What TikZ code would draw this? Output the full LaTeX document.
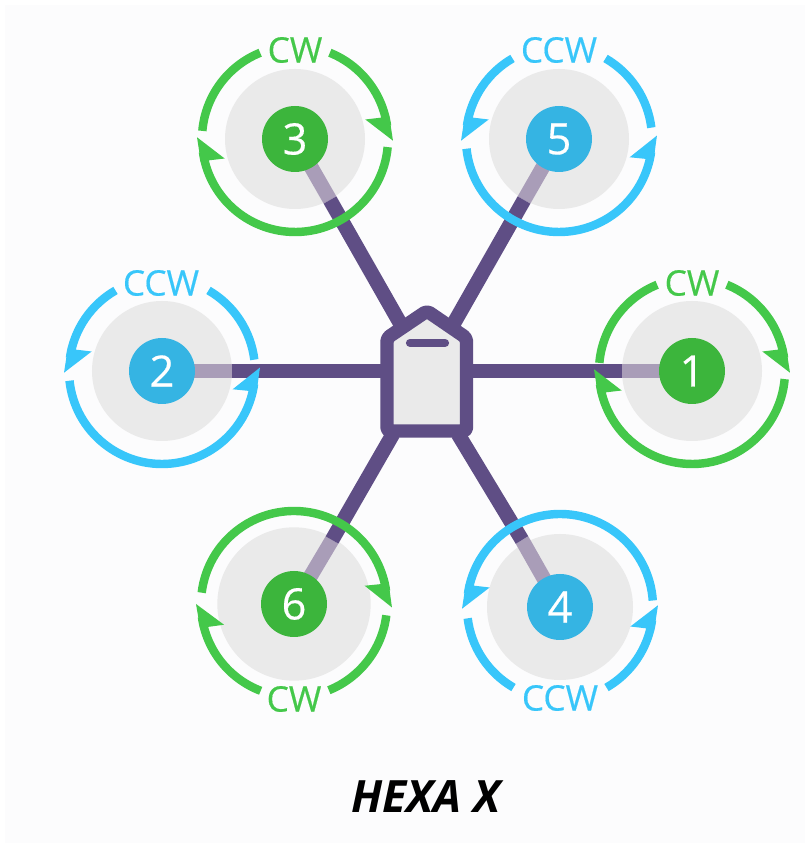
\documentclass[tikz,border=0pt]{standalone}
\usepackage{fontspec}
\setmainfont{Open Sans}
\newfontfamily\sensefont[FakeBold=0.4]{Open Sans}
\usepackage{xcolor}
\definecolor{bgcol}{HTML}{FCFCFD}
\definecolor{armcol}{HTML}{5F4E85}
\definecolor{armfade}{HTML}{A99DB8}
\definecolor{discol}{HTML}{EAEAEA}
\definecolor{ringcw}{HTML}{44C84A}
\definecolor{ringccw}{HTML}{38C6FA}
\definecolor{motorcw}{HTML}{3CB53C}
\definecolor{motorccw}{HTML}{35B4E3}
\newcommand{\tipcw}[2]{\fill ([shift={(#1)}]#2:98) -- ([shift={(#1)}]#2+16.5:73) -- ([shift={(#1)}]#2+15:88) -- ([shift={(#1)}]#2+15:97) -- cycle;}
\newcommand{\tipccw}[2]{\fill ([shift={(#1)}]#2:98) -- ([shift={(#1)}]#2-16.5:73) -- ([shift={(#1)}]#2-15:88) -- ([shift={(#1)}]#2-15:97) -- cycle;}
\tikzset{
    disc/.style={circle,fill=discol,minimum size=4.2cm,inner sep=0pt},
    motor/.style={circle,inner sep=0pt,minimum size=1.98cm,text=white,font=\sensefont\fontsize{37}{37}\selectfont},
    ring/.style={line width=7.2pt},
    arm/.style={armcol,line width=12.5pt},
    armlight/.style={armfade,line width=12.5pt},
    sense/.style={font=\sensefont\fontsize{30}{30}\selectfont,inner sep=0pt}
}

\begin{document}
\begin{tikzpicture}[x=0.03cm,y=0.03cm]

    % page, y counted up from the bottom edge
    \fill[white] (0,0) rectangle (805,843);
    \fill[bgcol] (5,0) rectangle (805,838);
    \useasboundingbox (0,0) rectangle (805,843);

    % grey discs
    \node[disc] (d1) at (692,472) {};
    \node[disc] (d2) at (162,472) {};
    \node[disc] (d3) at (295,704) {};
    \node[disc,minimum size=4.38cm] (d4) at (560,236) {};
    \node[disc] (d5) at (559,704) {};
    \node[disc,minimum size=4.6cm] (d6) at (294,239) {};

    % where the arms meet the body and where they turn pale
    \coordinate (h1) at (470,472);
    \coordinate (h2) at (385,472);
    \coordinate (h3) at (400,520);
    \coordinate (h4) at (458,409);
    \coordinate (h5) at (454,520);
    \coordinate (h6) at (393,409);
    \coordinate (f1) at (622,472);
    \coordinate (f2) at (232,472);
    \coordinate (f3) at (330,643);
    \coordinate (f4) at (522,303);
    \coordinate (f5) at (524,643);
    \coordinate (f6) at (332,303);

    % arms
    \draw[armlight] (d1.center) -- (f1);
    \draw[armlight] (d2.center) -- (f2);
    \draw[armlight] (d3.center) -- (f3);
    \draw[armlight] (d4.center) -- (f4);
    \draw[armlight] (d5.center) -- (f5);
    \draw[armlight] (d6.center) -- (f6);
    \draw[arm] (h1) -- (f1);
    \draw[arm] (h2) -- (f2);
    \draw[arm] (h3) -- (f3);
    \draw[arm] (h4) -- (f4);
    \draw[arm] (h5) -- (f5);
    \draw[arm] (h6) -- (f6);

    % body
    \draw[armcol,fill=discol,line width=11.5pt,rounded corners=3pt,line join=round]
        (387,412) -- (466.5,412) -- (466.5,505) -- (427,532) -- (387,505) -- cycle;
    \draw[armcol,line width=7pt,line cap=round] (410,500) -- (445,500);

    % rotation arrows, clockwise ones in green
    \begin{scope}[ringcw,every path/.append style={ring}]
        \draw ([shift={(d1.center)}]68:93) arc[start angle=68,end angle=8,radius=93];
        \draw ([shift={(d1.center)}]-5:93) arc[start angle=-5,end angle=-172,radius=93];
        \draw ([shift={(d1.center)}]112:93) arc[start angle=112,end angle=175,radius=93];
        \tipcw{d1.center}{-1}
        \tipcw{d1.center}{-181}

        \draw ([shift={(d3.center)}]68:93) arc[start angle=68,end angle=8,radius=93];
        \draw ([shift={(d3.center)}]-5:93) arc[start angle=-5,end angle=-172,radius=93];
        \draw ([shift={(d3.center)}]112:93) arc[start angle=112,end angle=175,radius=93];
        \tipcw{d3.center}{-1}
        \tipcw{d3.center}{-181}

        \draw ([shift={(d6.center)}]173:93) arc[start angle=173,end angle=8,radius=93];
        \draw ([shift={(d6.center)}]249:93) arc[start angle=249,end angle=188,radius=93];
        \draw ([shift={(d6.center)}]292:93) arc[start angle=292,end angle=353,radius=93];
        \tipcw{d6.center}{-2}
        \tipcw{d6.center}{180}
    \end{scope}

    % counter clockwise ones in blue
    \begin{scope}[ringccw,every path/.append style={ring}]
        \draw ([shift={(d2.center)}]120:93) arc[start angle=120,end angle=172,radius=93];
        \draw ([shift={(d2.center)}]186:93) arc[start angle=186,end angle=352,radius=93];
        \draw ([shift={(d2.center)}]60:93) arc[start angle=60,end angle=7,radius=93];
        \tipccw{d2.center}{181}
        \tipccw{d2.center}{2}

        \draw ([shift={(d5.center)}]120:93) arc[start angle=120,end angle=172,radius=93];
        \draw ([shift={(d5.center)}]186:93) arc[start angle=186,end angle=352,radius=93];
        \draw ([shift={(d5.center)}]60:93) arc[start angle=60,end angle=7,radius=93];
        \tipccw{d5.center}{181}
        \tipccw{d5.center}{2}

        \draw ([shift={(d4.center)}]4:93) arc[start angle=4,end angle=172,radius=93];
        \draw ([shift={(d4.center)}]187:93) arc[start angle=187,end angle=240,radius=93];
        \draw ([shift={(d4.center)}]300:93) arc[start angle=300,end angle=352,radius=93];
        \tipccw{d4.center}{181}
        \tipccw{d4.center}{1}
    \end{scope}

    % motors
    \node[motor,fill=motorcw] (m1) at (d1.center) {1};
    \node[motor,fill=motorccw] (m2) at (d2.center) {2};
    \node[motor,fill=motorcw] (m3) at (d3.center) {3};
    \node[motor,fill=motorccw] (m4) at (d4.center) {4};
    \node[motor,fill=motorccw] (m5) at (d5.center) {5};
    \node[motor,fill=motorcw] (m6) at (d6.center) {6};

    % labels
    \node[sense,text=ringcw] (l1) at (692,560) {CW};
    \node[sense,text=ringccw] (l2) at (161,560) {CCW};
    \node[sense,text=ringcw] (l3) at (295,793) {CW};
    \node[sense,text=ringccw] (l4) at (560,145) {CCW};
    \node[sense,text=ringccw] (l5) at (559,793) {CCW};
    \node[sense,text=ringcw] (l6) at (294,144) {CW};

    \node[font=\fontsize{38}{38}\selectfont\bfseries\itshape,inner sep=0pt] (title) at (426,46) {HEXA X};

\end{tikzpicture}
\end{document}
